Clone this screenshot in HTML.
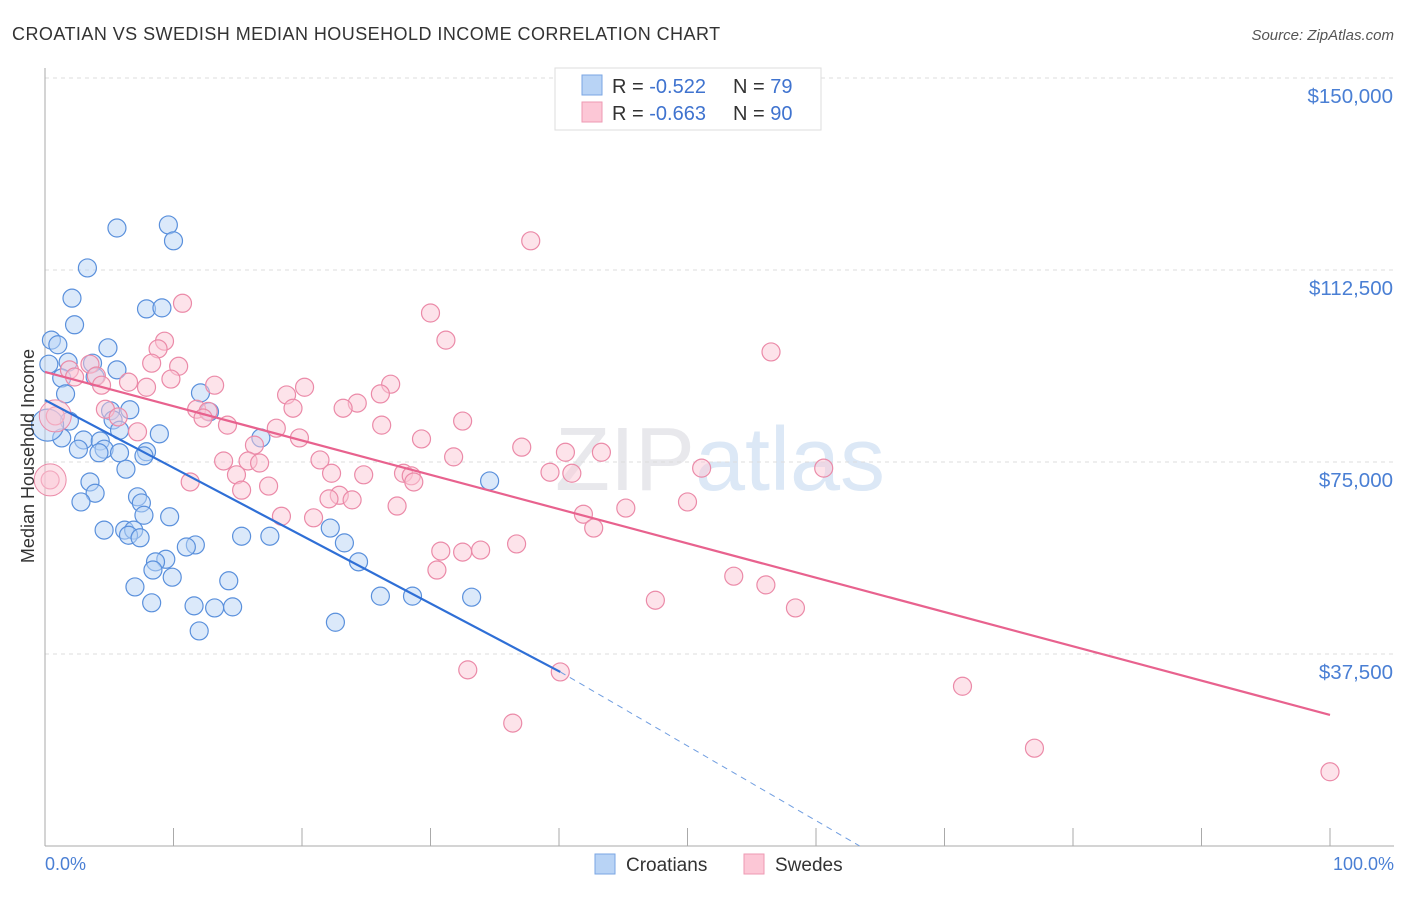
<!DOCTYPE html>
<html><head><meta charset="utf-8"><style>
body{margin:0;background:#fff;font-family:"Liberation Sans",sans-serif;}
svg text{font-family:"Liberation Sans",sans-serif;}
</style></head><body>
<svg width="1406" height="892">
<text x="12" y="40" font-size="18" letter-spacing="0.45" fill="#333">CROATIAN VS SWEDISH MEDIAN HOUSEHOLD INCOME CORRELATION CHART</text>
<text x="1394" y="40" font-size="15" fill="#555" font-style="italic" text-anchor="end">Source: ZipAtlas.com</text>
<text x="720" y="490" font-size="90" fill="#e8e8ec" text-anchor="middle" font-family="Liberation Serif">ZIP<tspan fill="#dce8f6" font-family="Liberation Sans">atlas</tspan></text>
<g id="grid"></g><g id="axes"></g><g id="marks"></g>
<text transform="translate(34,456) rotate(-90)" font-size="18" fill="#333" text-anchor="middle">Median Household Income</text>
<text x="45" y="870" font-size="18" fill="#4a7fd4">0.0%</text>
<text x="1394" y="870" font-size="18" fill="#4a7fd4" text-anchor="end">100.0%</text>
<g>
<rect x="555" y="68" width="266" height="62" fill="#fff" stroke="#ddd"/>
<rect x="582" y="75" width="20" height="20" fill="#b8d3f5" stroke="#7aa6e3"/>
<rect x="582" y="102" width="20" height="20" fill="#fcc7d6" stroke="#ee9ab3"/>
<text x="612" y="93" font-size="20" fill="#333">R = <tspan fill="#3f73cf">-0.522</tspan><tspan x="733">N = </tspan><tspan fill="#3f73cf">79</tspan></text>
<text x="612" y="120" font-size="20" fill="#333">R = <tspan fill="#3f73cf">-0.663</tspan><tspan x="733">N = </tspan><tspan fill="#3f73cf">90</tspan></text>
</g>
<g>
<rect x="595" y="854" width="20" height="20" fill="#b8d3f5" stroke="#7aa6e3"/>
<text x="626" y="871" font-size="19" fill="#333">Croatians</text>
<rect x="744" y="854" width="20" height="20" fill="#fcc7d6" stroke="#ee9ab3"/>
<text x="775" y="871" font-size="19" fill="#333">Swedes</text>
</g>
</svg>
<script>
const yTicks=[37500,75000,112500,150000];
const yTickLabels=["$37,500","$75,000","$112,500","$150,000"];
const xTicks=[0,10,20,30,40,50,60,70,80,90,100];
const croX=[5.6,9.6,10.0,3.3,2.1,7.9,9.1,2.3,0.5,1.0,4.9,0.3,1.8,3.7,5.6,1.3,3.9,1.6,12.1,5.1,6.6,12.8,1.9,5.3,5.8,1.3,3.0,4.3,8.9,16.8,2.6,4.6,4.2,5.8,7.9,7.7,6.3,34.6,3.5,3.9,7.2,2.8,7.5,7.7,9.7,4.6,6.2,6.9,22.2,6.5,7.4,15.3,17.5,23.3,11.7,11.0,9.4,8.6,24.4,8.4,9.9,14.3,7.0,26.1,28.6,33.2,8.3,11.6,13.2,14.6,22.6,12.0,0.2];
const croY=[120.7,121.3,118.2,112.9,107.0,104.9,105.1,101.8,98.8,97.9,97.3,94.1,94.5,94.3,93.0,91.4,91.6,88.3,88.5,85.0,85.2,84.8,83.0,83.2,81.2,79.7,79.3,79.1,80.5,79.7,77.5,77.5,76.8,76.8,77.0,76.2,73.6,71.3,71.1,68.9,68.2,67.2,67.0,64.6,64.3,61.7,61.7,61.7,62.1,60.7,60.2,60.5,60.5,59.2,58.8,58.4,56.0,55.5,55.5,53.9,52.5,51.8,50.6,48.8,48.8,48.6,47.5,46.9,46.5,46.7,43.7,42.0,82.2];
const sweX=[37.8,10.7,30.0,31.2,9.3,8.8,56.5,8.3,10.4,3.5,1.9,2.3,4.0,9.8,6.5,4.4,7.9,13.2,26.9,20.2,18.8,26.1,24.3,23.2,19.3,4.7,11.8,12.7,5.7,12.3,32.5,14.2,26.2,18.0,7.2,19.8,29.3,16.3,37.1,40.5,43.3,31.8,21.4,13.9,15.8,16.7,51.1,60.6,39.3,41.0,14.9,22.3,24.8,27.9,28.5,28.7,11.3,17.4,15.3,22.9,22.1,23.9,50.0,27.4,41.9,45.2,20.9,18.4,42.7,36.7,30.8,32.5,33.9,30.5,53.6,56.1,47.5,58.4,32.9,40.1,71.4,36.4,77.0,100,0.4,0.8];
const sweY=[118.2,106.0,104.1,98.8,98.6,97.1,96.5,94.3,93.7,94.1,93.0,91.6,91.8,91.2,90.6,90.0,89.6,90.0,90.2,89.6,88.1,88.3,86.5,85.5,85.5,85.3,85.3,84.9,83.8,83.6,83.0,82.2,82.2,81.6,80.9,79.7,79.5,78.3,77.9,76.9,76.9,76.0,75.4,75.2,75.2,74.8,73.8,73.8,73.0,72.8,72.5,72.8,72.5,72.8,72.3,71.1,71.1,70.3,69.5,68.5,67.8,67.6,67.2,66.4,64.8,66.0,64.1,64.4,62.1,59.0,57.6,57.4,57.8,53.9,52.7,51.0,48.0,46.5,34.4,34.0,31.2,24.0,19.1,14.5,71.5,84.0];
const croBig=[72];const sweBig=[84,85];
const croTrend=[0,87.1,40.1,34.0,63.4,0];
const sweTrend=[0,92.6,100,25.6];
const NS="http://www.w3.org/2000/svg";
const X=p=>45+p*12.85, Y=k=>846-k*1000*192/37500;
function mk(t,a,parent){const e=document.createElementNS(NS,t);for(const k in a)e.setAttribute(k,a[k]);document.getElementById(parent).appendChild(e);return e;}
yTicks.forEach((v,i)=>{
 const g=mk('line',{x1:45,x2:1394,y1:Y(v/1000),y2:Y(v/1000),stroke:'#ddd','stroke-dasharray':'4,4'},'grid');
 
 
 const t=mk('text',{x:1393,y:Y(v/1000)+25,'font-size':20.5,fill:'#4a7fd4','text-anchor':'end'},'grid');
 t.textContent=yTickLabels[i];
 
 
});
const ax=mk('line',{x1:45,x2:45,y1:68,y2:846,stroke:'#aaa'},'axes');


const bx=mk('line',{x1:45,x2:1394,y1:846,y2:846,stroke:'#aaa'},'axes');


xTicks.forEach(v=>{const l=mk('line',{x1:X(v),x2:X(v),y1:828,y2:846,stroke:'#aaa'},'axes');
 
 });
function pts(xs,ys,big,fill,stroke,name){xs.forEach((x,i)=>{
 const c=mk('circle',{cx:X(x),cy:Y(ys[i]),r:big.includes(i)?16:9,fill:fill,'fill-opacity':0.5,stroke:stroke,'stroke-width':1.2},'marks');
 
 });}
pts(croX,croY,croBig,'#b8d3f5','#5a90dc','croatian-point');
pts(sweX,sweY,[],'#fcc7d6','#eb8aa8','swede-point');
sweBig.forEach(i=>{const c=mk('circle',{cx:X(sweX[i]),cy:Y(sweY[i]),r:16,fill:'#fcc7d6','fill-opacity':0.5,stroke:'#eb8aa8'},'marks');
 
 });
const l1=mk('line',{x1:X(croTrend[0]),y1:Y(croTrend[1]),x2:X(croTrend[2]),y2:Y(croTrend[3]),stroke:'#2f6fd6','stroke-width':2.2},'marks');


const l2=mk('line',{x1:X(croTrend[2]),y1:Y(croTrend[3]),x2:X(croTrend[4]),y2:Y(croTrend[5]),stroke:'#6f9de0','stroke-width':1,'stroke-dasharray':'6,5'},'marks');


const l3=mk('line',{x1:X(sweTrend[0]),y1:Y(sweTrend[1]),x2:X(sweTrend[2]),y2:Y(sweTrend[3]),stroke:'#e8628e','stroke-width':2.2},'marks');


</script>
</body></html>
